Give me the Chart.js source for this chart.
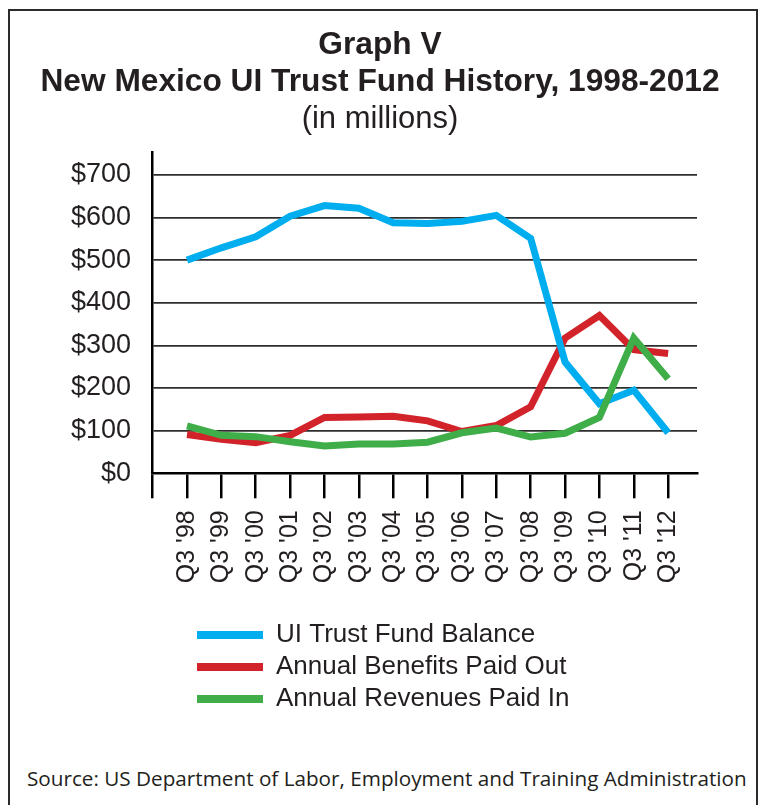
<!DOCTYPE html>
<html><head><meta charset="utf-8">
<script src="https://cdn.jsdelivr.net/npm/chart.js@4/dist/chart.umd.min.js"></script>
<style>
html,body{margin:0;padding:0;background:#fff;}
body{width:760px;height:805px;position:relative;overflow:hidden;}
#frame{position:absolute;left:8px;top:9px;width:750px;height:820px;border:2px solid #2b2b2b;box-sizing:border-box;}
#wrap{position:absolute;left:0;top:0;width:760px;height:740px;}
#source{position:absolute;left:27px;top:764px;font-family:'Open Sans',sans-serif;font-size:20.7px;color:#231f20;white-space:nowrap;}
</style></head>
<body>
<div id="frame"></div>
<div id="wrap"><canvas id="c" width="760" height="740"></canvas></div>
<div id="source">Source: US Department of Labor, Employment and Training Administration</div>
<script>
const quarters = ["Q3 '98", "Q3 '99", "Q3 '00", "Q3 '01", "Q3 '02", "Q3 '03", "Q3 '04", "Q3 '05", "Q3 '06", "Q3 '07", "Q3 '08", "Q3 '09", "Q3 '10", "Q3 '11", "Q3 '12"];
const trustFundBalance = [500, 529, 555, 603, 628, 622, 588, 586, 591, 605, 551, 261, 163, 195, 95];
const benefitsPaidOut = [91, 80, 72, 89, 131, 132, 134, 123, 98, 112, 156, 317, 370, 290, 281];
const revenuesPaidIn = [111, 89, 86, 74, 64, 69, 69, 73, 95, 106, 85, 94, 131, 317, 222];
const yTickValues = [0, 100, 200, 300, 400, 500, 600, 700];
const seriesNames = ['UI Trust Fund Balance', 'Annual Benefits Paid Out', 'Annual Revenues Paid In'];

const FONT = "'Liberation Sans', Arial, Helvetica, sans-serif";
const TEXT = '#231f20';
const X_MIN = -1.019, X_MAX = 14.84;

const toPoints = arr => arr.map((v, i) => ({x: i, y: v}));

const legendShift = {
  id: 'legendShift',
  afterLayout(chart) {
    const lg = chart.legend;
    if (!lg) return;
    const dx = 191 - lg.left;
    lg.left += dx; lg.right += dx;
  }
};

new Chart(document.getElementById('c'), {
  type: 'line',
  data: {
    datasets: [
      {label: seriesNames[0], data: toPoints(trustFundBalance), borderColor: '#00aeef', backgroundColor: '#00aeef', order: 1},
      {label: seriesNames[1], data: toPoints(benefitsPaidOut), borderColor: '#d2232a', backgroundColor: '#d2232a', order: 2},
      {label: seriesNames[2], data: toPoints(revenuesPaidIn), borderColor: '#3fae49', backgroundColor: '#3fae49', order: 0}
    ]
  },
  options: {
    responsive: false,
    animation: false,
    layout: {padding: {left: 0, right: 0, top: 0, bottom: 18}},
    elements: {
      line: {borderWidth: 7, tension: 0, borderJoinStyle: 'miter', borderCapStyle: 'butt'},
      point: {radius: 0, hoverRadius: 0, borderWidth: 8}
    },
    scales: {
      x: {
        type: 'linear',
        min: X_MIN, max: X_MAX,
        afterBuildTicks: s => { s.ticks = [{value: X_MIN}].concat(quarters.map((q, i) => ({value: i}))); },
        afterFit: s => { s.height = 142.7; },
        grid: {drawOnChartArea: false, drawTicks: true, tickLength: 25, color: '#000', lineWidth: 2.5, tickWidth: 2.5, tickColor: '#000'},
        border: {display: true, color: '#000', width: 2.5},
        ticks: {
          autoSkip: false, minRotation: 90, maxRotation: 90, padding: 12,
          color: TEXT, font: {family: FONT, size: 25},
          callback: v => Number.isInteger(v) ? quarters[v] : ''
        }
      },
      y: {
        min: 0, max: 753,
        afterBuildTicks: s => { s.ticks = yTickValues.map(v => ({value: v})); },
        afterFit: s => { s.width = 152; },
        grid: {drawTicks: false, color: '#2e2e2e', lineWidth: 1.8},
        border: {display: true, color: '#000', width: 2.5},
        ticks: {padding: 21, color: TEXT, font: {family: FONT, size: 27}, callback: v => '$' + v}
      },
      spacer: {
        type: 'linear',
        position: 'right',
        display: true,
        afterFit: s => { s.width = 63; },
        grid: {display: false, drawTicks: false},
        border: {display: false},
        ticks: {display: false}
      }
    },
    plugins: {
      title: {
        display: true,
        text: ['Graph V', 'New Mexico UI Trust Fund History, 1998-2012'],
        color: TEXT,
        font: {family: FONT, size: 31.7, weight: 'bold', lineHeight: 1.18},
        padding: {top: 26.3, bottom: 0}
      },
      subtitle: {
        display: true,
        text: '(in millions)',
        color: TEXT,
        font: {family: FONT, size: 31, weight: 'normal', lineHeight: 1.2},
        padding: {top: 0, bottom: 14}
      },
      legend: {
        display: true,
        position: 'bottom',
        align: 'start',
        fullSize: false,
        labels: {
          usePointStyle: true, pointStyle: 'line', pointStyleWidth: 66,
          padding: 6, color: TEXT, font: {family: FONT, size: 26},
          sort: (a, b) => a.datasetIndex - b.datasetIndex
        }
      },
      tooltip: {enabled: false}
    }
  },
  plugins: [legendShift]
});
</script>
</body></html>
